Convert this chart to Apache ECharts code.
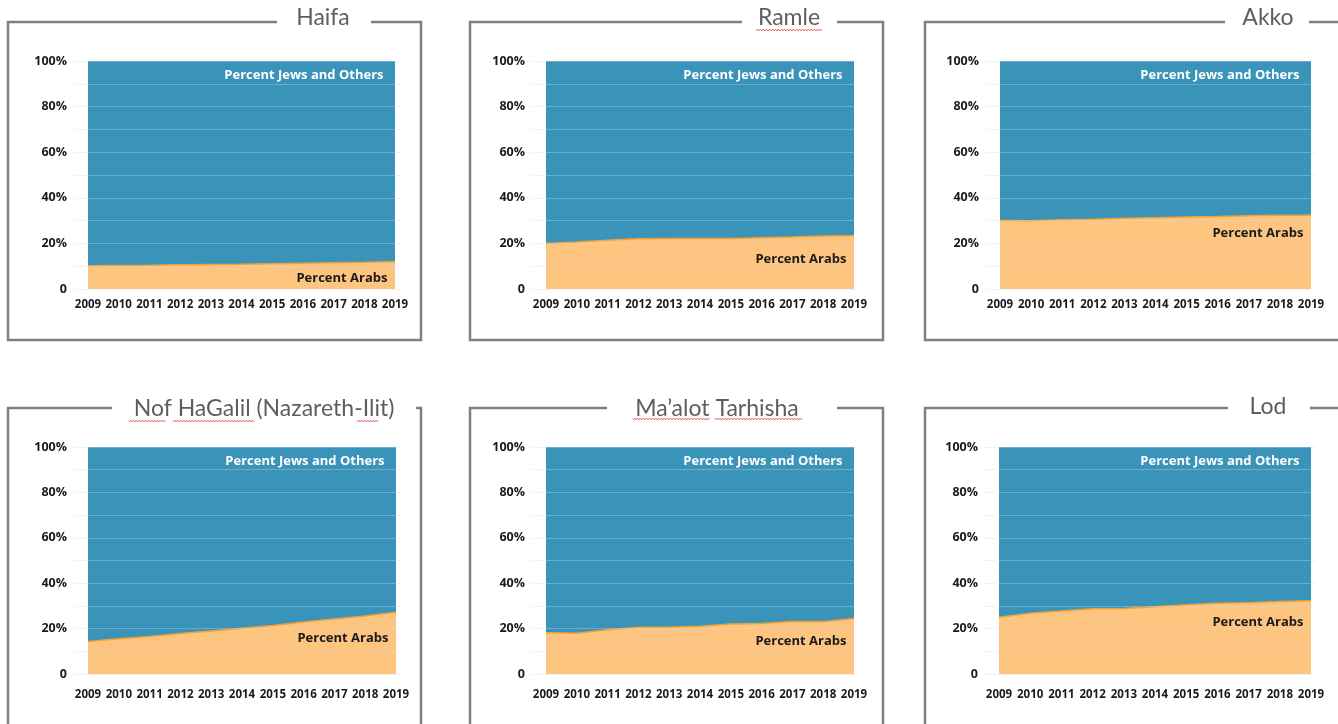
<!DOCTYPE html>
<html>
<head>
<meta charset="utf-8">
<script src="https://cdn.jsdelivr.net/npm/echarts@6/dist/echarts.min.js"></script>
<style>
html,body{margin:0;padding:0;background:#fff;}
#c{width:1338px;height:724px;}
</style>
</head>
<body>
<div id="c"></div>
<script>
// ---- data ----
const years = ['2009','2010','2011','2012','2013','2014','2015','2016','2017','2018','2019'];
const yTicks = [0, 20, 40, 60, 80, 100];
const titles = ['Haifa', 'Ramle', 'Akko', 'Nof HaGalil (Nazareth-Ilit)', 'Ma’alot Tarhisha', 'Lod'];
const haifaArabs   = [10.2, 10.3, 10.4, 10.6, 10.8, 10.9, 11.1, 11.3, 11.5, 11.7, 12.0];
const ramleArabs   = [20.0, 20.6, 21.4, 22.0, 22.2, 22.2, 22.2, 22.5, 22.8, 23.2, 23.4];
const akkoArabs    = [30.0, 29.9, 30.4, 30.6, 31.0, 31.3, 31.6, 31.8, 32.1, 32.3, 32.4];
const nofArabs     = [14.3, 15.5, 16.5, 17.8, 18.9, 20.2, 21.4, 22.9, 24.2, 25.5, 27.2];
const maalotArabs  = [18.2, 18.0, 19.5, 20.6, 20.6, 21.0, 22.0, 22.2, 23.1, 23.0, 24.5];
const lodArabs     = [25.0, 26.8, 27.8, 28.7, 28.9, 29.6, 30.5, 31.2, 31.4, 31.9, 32.3];
const arabsLabel = 'Percent Arabs';
const jewsLabel = 'Percent Jews and Others';

// ---- layout ----
const seriesData = [haifaArabs, ramleArabs, akkoArabs, nofArabs, maalotArabs, lodArabs];
const layout = [
  {plot:[88,61,395,289],  frame:[8,22,421,340],   gap:[277,371],   tx:323,  ty:18,  arabLab:4.8,  xm:10},
  {plot:[546,61,854,289], frame:[470,22,883,340], gap:[742,837],   tx:789,  ty:18,  arabLab:13.2, xm:10},
  {plot:[1000,61,1311,289], frame:[925,22,1345,340], gap:[1225,1309], tx:1268, ty:18, arabLab:24.6, xm:10},
  {plot:[88,447,396,674], frame:[8,408,421,740],  gap:[112,416],   tx:264,  ty:409, arabLab:15.8, xm:15},
  {plot:[546,447,854,674], frame:[470,408,883,740], gap:[607,837], tx:717,  ty:409, arabLab:14.5, xm:15},
  {plot:[999,447,1311,674], frame:[925,408,1345,740], gap:[1228,1310], tx:1268, ty:407, arabLab:22.8, xm:15}
];
// spell-check squiggles under some titles: [x0, x1, y]
const squiggles = [[756,823,30],[129,166,421],[173,255,421],[357,378,421],[633,710,419],[715,802,419]];

const FONT = '"Open Sans", Lato, sans-serif';
const TFONT = 'Lato, "Open Sans", sans-serif';
const BLUE = '#3a93b8', ORANGE = '#fdc57f', ORANGE_EDGE = '#f2a23a';

const grid = [], xAxis = [], yAxis = [], series = [], graphic = [];

layout.forEach((p, i) => {
  const [l, t, r, b] = p.plot;
  grid.push({left: l, top: t, width: r - l, height: b - t, containLabel: false});
  grid.push({left: l - 15, top: t, width: (r - l) + 20, height: b - t, containLabel: false});
  const gi = i * 2, go = i * 2 + 1;
  xAxis.push({
    type: 'category', gridIndex: gi, data: years, boundaryGap: false,
    axisLine: {show: false}, axisTick: {show: false},
    axisLabel: {fontFamily: FONT, fontWeight: 'bold', fontSize: 11.5, color: '#1a1a1a', margin: p.xm, interval: 0},
    splitLine: {show: false}
  });
  xAxis.push({type: 'value', gridIndex: go, min: 0, max: 1, show: false});
  yAxis.push({type: 'value', gridIndex: gi, min: 0, max: 100, show: false, splitLine: {show: false}});
  yAxis.push({
    type: 'value', gridIndex: go, min: 0, max: 100, interval: 10, z: 10,
    axisLine: {show: false}, axisTick: {show: false},
    axisLabel: {
      fontFamily: FONT, fontWeight: 'bold', fontSize: 12.5, color: '#1a1a1a', margin: 6,
      formatter: v => yTicks.indexOf(v) < 0 ? '' : (v === 0 ? '0' : v + '%')
    },
    splitLine: {show: true, lineStyle: {color: 'rgba(215,222,228,0.35)', width: 1}}
  });
  const arabs = seriesData[i];
  const jews = arabs.map(v => +(100 - v).toFixed(2));
  const stackId = 's' + i;
  series.push({
    type: 'line', name: arabsLabel, xAxisIndex: gi, yAxisIndex: gi, stack: stackId,
    data: arabs, symbol: 'none', z: 3,
    lineStyle: {color: ORANGE_EDGE, width: 1.5},
    areaStyle: {color: ORANGE, opacity: 1},
    markPoint: {
      symbol: 'circle', symbolSize: 1, itemStyle: {color: 'rgba(0,0,0,0)'},
      label: {show: true, position: 'left', distance: 7, formatter: arabsLabel,
        fontFamily: FONT, fontWeight: 'bold', fontSize: 13, color: '#1a1a1a'},
      data: [{coord: [years[years.length - 1], p.arabLab]}]
    }
  });
  series.push({
    type: 'line', name: jewsLabel, xAxisIndex: gi, yAxisIndex: gi, stack: stackId,
    data: jews, symbol: 'none', z: 2,
    lineStyle: {width: 0},
    areaStyle: {color: BLUE, opacity: 1},
    markPoint: {
      symbol: 'circle', symbolSize: 1, itemStyle: {color: 'rgba(0,0,0,0)'},
      label: {show: true, position: 'left', distance: 11, formatter: jewsLabel,
        fontFamily: FONT, fontWeight: 'bold', fontSize: 13, color: '#ffffff'},
      data: [{coord: [years[years.length - 1], 93.9]}]
    }
  });
  const [fl, ft, fr, fb] = p.frame;
  graphic.push({
    type: 'polyline', silent: true, z: 1,
    shape: {points: [[p.gap[1], ft], [fr, ft], [fr, fb], [fl, fb], [fl, ft], [p.gap[0], ft]]},
    style: {stroke: '#7f7f7f', lineWidth: 2.5, fill: null}
  });
  graphic.push({
    type: 'text', silent: true, z: 5, x: p.tx, y: p.ty,
    style: {text: titles[i], fontFamily: TFONT, fontSize: 23, fill: '#5e5e5e', align: 'center', verticalAlign: 'middle'}
  });
});

squiggles.forEach(([x0, x1, y]) => {
  const pts = [];
  let k = 0;
  for (let x = x0; x <= x1; x += 1.5, k++) pts.push([x, y + (k % 2 ? -0.9 : 0.9)]);
  graphic.push({type: 'polyline', silent: true, z: 6, shape: {points: pts},
    style: {stroke: '#e0504a', lineWidth: 0.9, fill: null}});
});

const chart = echarts.init(document.getElementById('c'), null, {renderer: 'canvas'});
chart.setOption({
  animation: false,
  backgroundColor: '#ffffff',
  grid, xAxis, yAxis, series, graphic
});
</script>
</body>
</html>
